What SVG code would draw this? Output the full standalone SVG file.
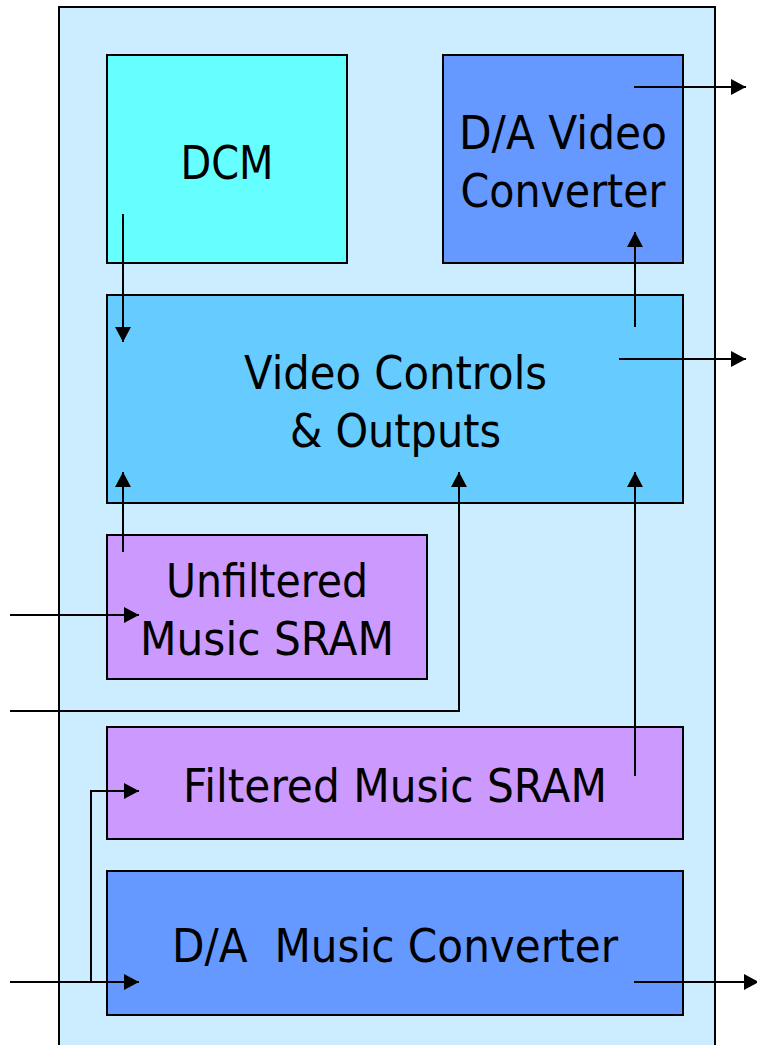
<svg xmlns="http://www.w3.org/2000/svg" width="757" height="1045" viewBox="0 0 757 1045">
  <style>
    .box { stroke: #000; stroke-width: 2; }
    .lbl { font-family: "DejaVu Sans", "Liberation Sans", sans-serif; font-size: 47px; fill: #000; text-anchor: middle; }
    .wire { fill: none; stroke: #000; stroke-width: 2; }
  </style>
  <defs>
    <marker id="arrow" markerUnits="userSpaceOnUse" markerWidth="15" markerHeight="16" refX="15" refY="8" orient="auto">
      <path d="M0,0 L15,8 L0,16 Z" fill="#000"/>
    </marker>
  </defs>

  <!-- FPGA boundary -->
  <g id="board">
    <rect class="box" x="59" y="7" width="656" height="1060" fill="#CCECFF"/>
  </g>

  <g id="dcm">
    <rect class="box" x="107" y="55" width="240" height="208" fill="#66FFFF"/>
    <text class="lbl" x="227" y="179" textLength="93" lengthAdjust="spacingAndGlyphs">DCM</text>
  </g>

  <g id="da-video">
    <rect class="box" x="443" y="55" width="240" height="208" fill="#6699FF"/>
    <text class="lbl" x="563" y="149" textLength="208" lengthAdjust="spacingAndGlyphs">D/A Video</text>
    <text class="lbl" x="563" y="207" textLength="205" lengthAdjust="spacingAndGlyphs">Converter</text>
  </g>

  <g id="video-controls">
    <rect class="box" x="107" y="295" width="576" height="208" fill="#66CCFF"/>
    <text class="lbl" x="395.5" y="389" textLength="303" lengthAdjust="spacingAndGlyphs">Video Controls</text>
    <text class="lbl" x="395.5" y="447" textLength="211" lengthAdjust="spacingAndGlyphs">&amp; Outputs</text>
  </g>

  <g id="unfiltered-sram">
    <rect class="box" x="107" y="535" width="320" height="144" fill="#CC99FF"/>
    <text class="lbl" x="267" y="597" textLength="202" lengthAdjust="spacingAndGlyphs">Unfiltered</text>
    <text class="lbl" x="267" y="655" textLength="254" lengthAdjust="spacingAndGlyphs">Music SRAM</text>
  </g>

  <g id="filtered-sram">
    <rect class="box" x="107" y="727" width="576" height="112" fill="#CC99FF"/>
    <text class="lbl" x="395" y="802" textLength="424" lengthAdjust="spacingAndGlyphs">Filtered Music SRAM</text>
  </g>

  <g id="da-music">
    <rect class="box" x="107" y="871" width="576" height="144" fill="#6699FF"/>
    <text class="lbl" x="395" y="962" textLength="446" lengthAdjust="spacingAndGlyphs" xml:space="preserve">D/A  Music Converter</text>
  </g>

  <g id="connectors">
    <!-- clock from DCM -->
    <path class="wire" d="M123,214 V342" marker-end="url(#arrow)"/>
    <!-- controls to video DAC -->
    <path class="wire" d="M635,327 V232" marker-end="url(#arrow)"/>
    <!-- video DAC output -->
    <path class="wire" d="M634,87 H746" marker-end="url(#arrow)"/>
    <!-- controls output -->
    <path class="wire" d="M619,359 H746" marker-end="url(#arrow)"/>
    <!-- unfiltered SRAM to controls -->
    <path class="wire" d="M123,552 V472" marker-end="url(#arrow)"/>
    <!-- input to unfiltered SRAM -->
    <path class="wire" d="M10,615 H139" marker-end="url(#arrow)"/>
    <!-- input to controls -->
    <path class="wire" d="M10,711 H459 V472" marker-end="url(#arrow)"/>
    <!-- filtered SRAM to controls -->
    <path class="wire" d="M635,776 V472" marker-end="url(#arrow)"/>
    <!-- input to music DAC -->
    <path class="wire" d="M10,982 H139" marker-end="url(#arrow)"/>
    <!-- branch to filtered SRAM -->
    <path class="wire" d="M91,982 V791 H139" marker-end="url(#arrow)"/>
    <!-- music DAC output -->
    <path class="wire" d="M634,982 H759" marker-end="url(#arrow)"/>
  </g>
</svg>
